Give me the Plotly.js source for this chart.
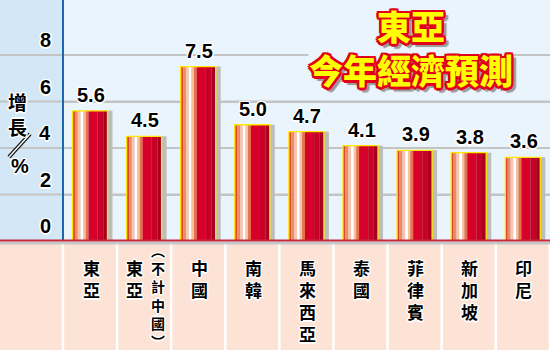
<!DOCTYPE html>
<html><head><meta charset="utf-8">
<script src="https://cdn.plot.ly/plotly-3.0.1.min.js"></script>
<style>html,body{margin:0;padding:0;background:#fff}</style>
</head><body><div id="chart" style="width:550px;height:352px"></div>
<script>
// ---- data ----
const categories = ['東亞','東亞(不計中國)','中國','南韓','馬來西亞','泰國','菲律賓','新加坡','印尼'];
const growth = [5.6, 4.5, 7.5, 5.0, 4.7, 4.1, 3.9, 3.8, 3.6];
const valueLabels = ['5.6','4.5','7.5','5.0','4.7','4.1','3.9','3.8','3.6'];
const yTicks = [0, 2, 4, 6, 8];
const yTickText = ['0','2','4','6','8'];
const titleLines = ['東亞', '今年經濟預測'];
const yTitleText = ['增長', '%'];

// ---- geometry / style ----
const W = 550, H = 352;
const pxX = 54.1, x0px = 90;
const xRange = [-x0px / pxX, (W - x0px) / pxX];
const baseY = 241, pxY = 23.25;
const yRange = [0, baseY / pxY];
const yDomain = [(H - baseY) / H, 1];
const PY = p => 1 - p / H;
const PX = p => p / W;
const BW = 0.647;
const SH = 5 / pxX;   // shadow offset in x units
const idx = categories.map((_, i) => i);
const vert = s => Array.from(s).join('<br>');

const halo = '1.5px 0 0 #fff, -1.5px 0 0 #fff, 0 1.5px 0 #fff, 0 -1.5px 0 #fff, 1px 1px 0 #fff, -1px -1px 0 #fff, 1px -1px 0 #fff, -1px 1px 0 #fff';
const redO = '#e2001a';
const titleShadow = ['2.5px 0 0 ','-2.5px 0 0 ','0 2.5px 0 ','0 -2.5px 0 ','2px 2px 0 ','-2px -2px 0 ','2px -2px 0 ','-2px 2px 0 ']
  .map(s => s + redO).concat(['4px 4px 1px #9a9a9a','5px 3px 1px #9a9a9a','3px 5px 1px #9a9a9a']).join(', ');

const stripes = [
  [0.00, 0.07, '#d84a28'],
  [0.07, 0.15, '#ee8a66'],
  [0.15, 0.23, '#f8c6ae'],
  [0.23, 0.31, '#ffffff'],
  [0.31, 0.38, '#f8c0a0'],
  [0.38, 0.46, '#e8704a'],
  [0.46, 0.72, '#d6002a'],
  [0.72, 0.88, '#c60026'],
  [0.88, 1.00, '#a8001e']
];

const traces = [];
traces.push({type:'bar', x: idx, y: growth, width: BW, offset: -BW/2 + SH,
  marker:{color:'#bdbdbd'}, hoverinfo:'skip', showlegend:false});
stripes.forEach(s => {
  traces.push({type:'bar', x: idx, y: growth, width: BW*(s[1]-s[0]), offset: -BW/2 + BW*s[0],
    marker:{color:s[2], line:{width:0}}, hoverinfo:'skip', showlegend:false});
});
traces.push({type:'bar', x: idx, y: growth, width: BW, offset: -BW/2,
  marker:{color:'rgba(0,0,0,0)', line:{color:'#ffe800', width:1.3}}, hoverinfo:'skip', showlegend:false});

const shapes = [];
// left column background
shapes.push({type:'rect', xref:'paper', yref:'paper', x0:0, x1:PX(62), y0:PY(baseY), y1:1,
  fillcolor:'#d3e7f6', line:{width:0}, layer:'above'});
// gridlines: segments of each tick value that are not hidden behind a taller bar
yTicks.forEach(t => {
  const blocked = idx.filter(i => growth[i] > t)
    .map(i => [i - BW/2 - 0.01, i + BW/2 + SH + 0.01]);
  let start = xRange[0];
  const segs = [];
  blocked.forEach(b => { if (b[0] > start) segs.push([start, b[0]]); start = b[1]; });
  if (start < xRange[1]) segs.push([start, xRange[1]]);
  segs.forEach(sg => {
    shapes.push({type:'line', xref:'x', yref:'y', x0:sg[0], x1:sg[1], y0:t, y1:t,
      line:{color:'#c4c4c4', width:2}, layer:'above'});
  });
});
shapes.push({type:'line', xref:'paper', yref:'paper', x0:PX(63), x1:PX(63), y0:PY(baseY), y1:1,
  line:{color:'#1a66b2', width:2}, layer:'above'});
shapes.push({type:'rect', xref:'paper', yref:'paper', x0:0, x1:1, y0:PY(350), y1:PY(244),
  fillcolor:'#fde3d5', line:{width:0}, layer:'below'});
shapes.push({type:'rect', xref:'paper', yref:'paper', x0:0, x1:1, y0:PY(244.5), y1:PY(241.5),
  fillcolor:'#c6c6c6', line:{width:0}, layer:'above'});
shapes.push({type:'line', xref:'paper', yref:'paper', x0:0, x1:1, y0:PY(240.5), y1:PY(240.5),
  line:{color:'#c8283c', width:2}, layer:'above'});
for (let k = 0; k <= categories.length; k++) {
  const xp = x0px + (k - 0.5) * pxX;
  shapes.push({type:'line', xref:'paper', yref:'paper', x0:PX(xp), x1:PX(xp), y0:PY(350), y1:PY(244.5),
    line:{color:'#ffffff', width:2.5}, layer:'above'});
}
shapes.push({type:'line', xref:'paper', yref:'paper', x0:PX(30), y0:PY(134), x1:PX(9), y1:PY(157),
  line:{color:'#111', width:4}, layer:'above'});
shapes.push({type:'line', xref:'paper', yref:'paper', x0:PX(30), y0:PY(134), x1:PX(9), y1:PY(157),
  line:{color:'#fff', width:1.4}, layer:'above'});

const annotations = [];
yTicks.forEach((t, j) => {
  annotations.push({xref:'paper', yref:'y', x: PX(53), y: t, text: yTickText[j], showarrow:false,
    xanchor:'right', yanchor:'middle', yshift: 15,
    font:{family:'Liberation Sans, Arial, sans-serif', size:20, weight:700, color:'#000', shadow: halo}});
});
growth.forEach((v, i) => {
  annotations.push({x: i, y: v, xref:'x', yref:'y', text: valueLabels[i], showarrow:false,
    yanchor:'bottom', yshift:3, xshift:1,
    font:{family:'Liberation Sans, Arial, sans-serif', size:20, weight:700, color:'#000', shadow: halo}});
});
categories.forEach((c, i) => {
  const p = c.indexOf('(');
  let cols;
  if (p >= 0) {
    const second = c.slice(p).replace('(', '︵').replace(')', '︶');
    cols = [{t: c.slice(0, p), dx: -10, y0: 267, size: 17},
            {t: second, dx: 14, y0: 250, size: 14}];
  } else {
    cols = [{t: c, dx: 1, y0: 267, size: 17}];
  }
  cols.forEach(col => {
    const n = Array.from(col.t).length;
    const pitch = 1.3 * col.size;
    annotations.push({x: i, xref:'x', y: PY(col.y0 + (n - 1) * pitch / 2), yref:'paper', text: vert(col.t),
      showarrow:false, xshift: col.dx, xanchor:'center', yanchor:'middle', align:'center',
      font:{family:'Noto Sans CJK TC, sans-serif', size: col.size, weight:700, color:'#000', shadow: halo}});
  });
});
annotations.push({xref:'paper', yref:'paper', x: PX(17.5), y: PY(113.5), text: vert(yTitleText[0]),
  showarrow:false, xanchor:'center', yanchor:'middle',
  font:{family:'Noto Sans CJK TC, sans-serif', size:19, weight:700, color:'#000', shadow: halo}});
annotations.push({xref:'paper', yref:'paper', x: PX(20), y: PY(166), text: yTitleText[1],
  showarrow:false, xanchor:'center', yanchor:'middle',
  font:{family:'Liberation Sans, Arial, sans-serif', size:20, weight:700, color:'#000', shadow: halo}});
annotations.push({xref:'paper', yref:'paper', x: PX(411), y: PY(47), text: titleLines.join('<br>'),
  showarrow:false, xanchor:'center', yanchor:'middle', align:'center', bgcolor:'#e9f4fc', borderpad: 0,
  font:{family:'Noto Sans CJK TC, sans-serif', size:34, weight:900, color:'#ffff00', shadow: titleShadow}});

const layout = {
  width: W, height: H,
  margin: {l:0, r:0, t:0, b:0},
  paper_bgcolor: '#ffffff',
  plot_bgcolor: '#e9f4fc',
  barmode: 'overlay',
  showlegend: false,
  xaxis: {range: xRange, showgrid:false, zeroline:false, showticklabels:false},
  yaxis: {range: yRange, domain: yDomain, tickvals: yTicks, showticklabels:false,
    showgrid:true, gridcolor:'#c4c4c4', gridwidth:2, zeroline:false},
  shapes: shapes,
  annotations: annotations
};

Plotly.newPlot('chart', traces, layout, {staticPlot:true, displayModeBar:false});
</script>
</body></html>
